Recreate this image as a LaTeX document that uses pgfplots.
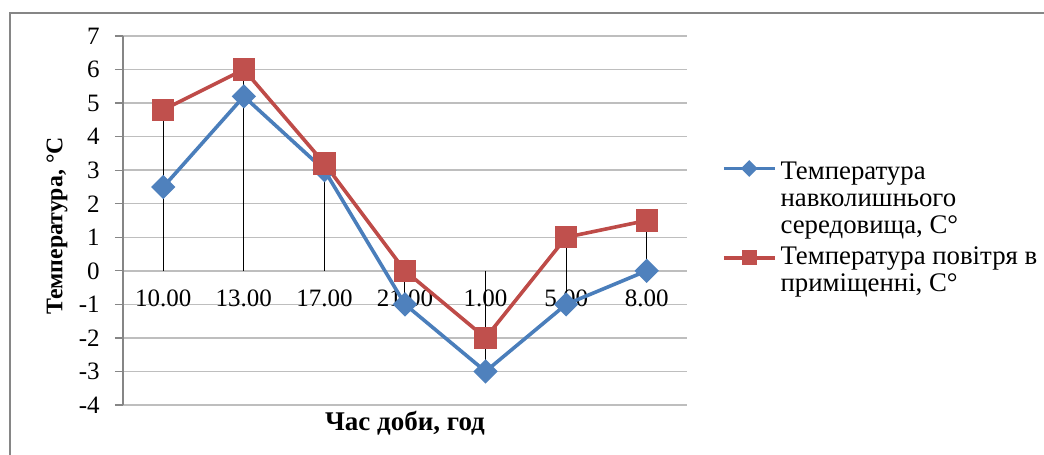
\documentclass[border=0pt]{standalone}
\usepackage{fontspec}
\setmainfont{Liberation Serif}
\usepackage{pgfplots}
\pgfplotsset{compat=1.18}

\definecolor{outblue}{HTML}{4A7EBB}
\definecolor{outbluem}{HTML}{4F81BD}
\definecolor{inred}{HTML}{BE4B48}
\definecolor{inredm}{HTML}{C0504D}
\definecolor{gridgray}{HTML}{BEBEBE}
\definecolor{axgray}{HTML}{868686}

% legend sample raised to the first line of a multi-line entry
\pgfplotsset{
    lshift/.style={legend image code/.code={
        \path (0pt,0pt) (25.5pt,0pt);
        \draw[overlay, yshift=#1, mark repeat=2, mark phase=2, ##1,
              every mark/.append style={scale=0.6}]
            plot coordinates {(0pt,0pt) (12.75pt,0pt) (25.5pt,0pt)};}},
}

% temperature outside / inside, categories 1..7
\pgfplotstableread{
x out in
1 2.5 4.8
2 5.2 6
3 3.0 3.2
4 -1 0
5 -3 -2
6 -1 1
7 0 1.5
}\temps

\begin{document}
\begin{tikzpicture}[font=\fontsize{12.5}{14}\selectfont]
\useasboundingbox (-61.5pt,-25pt) rectangle (460.5pt,202.5pt);
\draw[axgray, line width=1pt] (-56.5pt,-26pt) -- (-56.5pt,196pt) -- (462pt,196pt);
\begin{axis}[
    at={(0pt,0pt)}, anchor=south west,
    scale only axis, width=282pt, height=184.5pt,
    xmin=0.5, xmax=7.5, ymin=-4, ymax=7,
    xtick={1,...,7},
    xticklabels={10.00,13.00,17.00,21.00,1.00,5.00,8.00},
    ytick={-4,...,7},
    /pgf/number format/assume math mode=true,
    axis lines*=left,
    x axis line style={draw=none},
    y axis line style={axgray, line width=0.6pt},
    xtick style={draw=none},
    ytick style={axgray, line width=0.6pt},
    tick align=outside,
    major tick length=4pt,
    ymajorgrids,
    grid style={gridgray, line width=0.75pt},
    xticklabel style={anchor=center, inner sep=0pt, yshift=57.5pt},
    yticklabel style={anchor=east, inner sep=0pt, xshift=-7.5pt},
    every axis y label/.style={at={(axis description cs:-0.117,0.485)}, rotate=90, anchor=center,
        font=\fontsize{11.9}{14}\selectfont\bfseries},
    every axis x label/.style={at={(axis description cs:0.5,0)}, anchor=center, yshift=-9pt,
        font=\fontsize{13.5}{15}\selectfont\bfseries},
    ylabel={Температура, °С},
    xlabel={Час доби, год},
    legend cell align=left,
    legend style={draw=none, fill=none, inner sep=0pt, outer sep=0pt,
        at={(axis description cs:1.062,0.6585)}, anchor=north west,
        row sep=5pt, column sep=2pt,
        font=\fontsize{13.4}{13.6}\selectfont,
        nodes={inner sep=0pt, align=left}},
]
\addplot[outblue, line width=1.8pt, mark=square*,
    mark options={rotate=45, fill=outbluem, draw=outbluem, mark size=3.4pt},
    lshift=15.5pt]
    table[x=x, y=out] {\temps};
\addlegendentry{Температура\\навколишнього\\середовища, С°}
\addplot[inred, line width=1.8pt, mark=square*,
    mark options={fill=inredm, draw=inredm, mark size=4.7pt},
    lshift=6.5pt]
    table[x=x, y=in] {\temps};
\addlegendentry{Температура повітря в\\приміщенні, С°}
% drop lines from each point to zero
\addplot[ycomb, black, line width=0.5pt, forget plot] table[x=x, y=out] {\temps};
\addplot[ycomb, black, line width=0.5pt, forget plot] table[x=x, y=in] {\temps};
\end{axis}
\end{tikzpicture}
\end{document}
